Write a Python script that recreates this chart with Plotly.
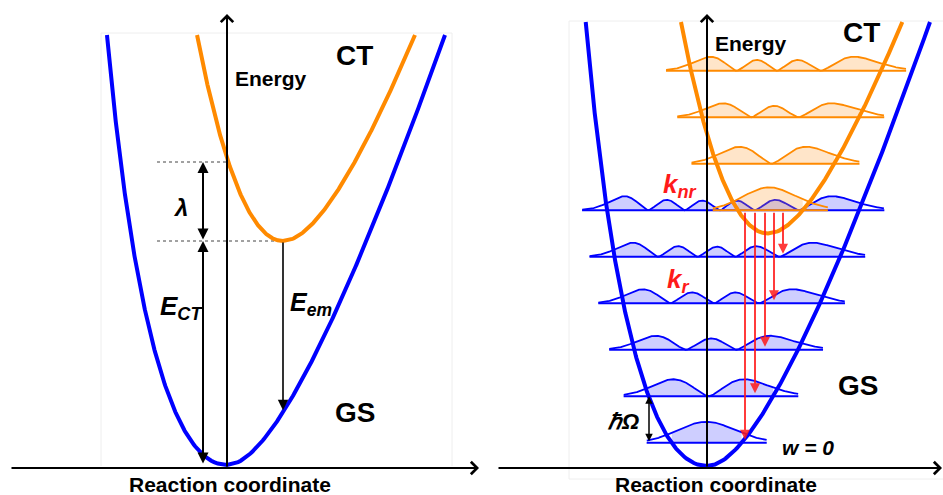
import numpy as np
import plotly.graph_objects as go
from numpy.polynomial.hermite import hermval

# ---------------- data (arbitrary units, reaction coordinate q / energy E) ----------------
# shape of each potential branch: horizontal offset = a*sqrt(h) + b*h at height h above minimum
GS_BRANCH_LEFT = [7.8, -0.097]
GS_BRANCH_RIGHT = [6.2, 0.208]
CT_BRANCH_LEFT = [6.42, -0.03]
CT_BRANCH_RIGHT = [6.24, 0.206]

# left panel: Marcus picture
A_GS_MIN = [0, 0]          # (q, E)
A_CT_MIN = [56, 224]       # (q, E)
A_LAMBDA = 79              # reorganisation energy
A_E_TOP = 430              # top of drawn potentials
A_ARROW_Q = -24            # q of the E_CT / lambda arrows

# right panel: vibronic picture
B_GS_MIN = [0, 0]
B_CT_MIN = [61, 232.5]
B_HW = 46.5                # vibrational quantum (hbar Omega)
B_GS_AMP = [21, 17, 14, 14, 14, 14]   # drawn wavefunction height of GS levels w = 0..5
B_CT_AMP = [23, 17, 14, 14]           # drawn wavefunction height of CT levels 0..3
B_E_TOP = 444
B_KR_Q = [38, 48, 58, 67, 76]         # q of radiative transitions
B_KR_TARGET = [0, 1, 2, 3, 4]         # GS level reached by each transition
B_HW_ARROW_Q = -58

BLUE = "#0000FF"
ORANGE = "#FF8A00"
RED = "rgba(255,25,25,0.85)"
FONT = "Arial, Liberation Sans, sans-serif"
EXT = 25
PSI_POWER = 1.5


def branch(h, p):
    h = np.maximum(h, 0)
    return p[0] * np.sqrt(h) + p[1] * h


def potential(q0, e0, pl, pr, top):
    h = np.linspace(0, top - e0, 300)
    x = np.concatenate([q0 - branch(h[::-1], pl), q0 + branch(h, pr)])
    y = np.concatenate([e0 + h[::-1], e0 + h])
    return x, y


def wave(q0, e0, pl, pr, hw, n, amp):
    hn = (n + 0.5) * hw
    xl = q0 - branch(hn, pl)
    xr = q0 + branch(hn, pr)
    xt = np.sqrt(2 * n + 1)
    xi = np.linspace(-xt - 3, xt + 3, 1500)
    xlin = (xl + xr) / 2 + (xr - xl) / 2 * xi / xt
    hh = xi ** 2 * hw / 2
    xw = q0 + np.where(xi < 0, -branch(hh, pl), branch(hh, pr))
    x = 0.5 * (xlin + xw)
    c = np.zeros(n + 1)
    c[n] = 1
    p = np.abs(hermval(xi, c)) ** PSI_POWER * np.exp(-PSI_POWER * xi ** 2 / 2)
    p = p / p.max() * amp
    en = e0 + hn
    m = (x >= xl - EXT) & (x <= xr + EXT)
    return x[m], en + p[m], xl, xr, en


fig = go.Figure()


def line(x, y, color, width, xa="x", ya="y", dash=None, fill=None, fillcolor=None):
    fig.add_trace(go.Scatter(x=x, y=y, mode="lines", xaxis=xa, yaxis=ya,
                             line=dict(color=color, width=width, dash=dash),
                             fill=fill, fillcolor=fillcolor, hoverinfo="skip",
                             showlegend=False))


def arrow(xa, ya, x0, y0, x1, y1, head=2, size=1.0, width=2, color="black", both=False):
    fig.add_annotation(x=x1, y=y1, ax=x0, ay=y0, xref=xa, yref=ya, axref=xa, ayref=ya,
                       text="", showarrow=True, arrowhead=head, startarrowhead=head,
                       arrowside="end+start" if both else "end", arrowsize=size,
                       startarrowsize=size, arrowwidth=width, arrowcolor=color)


def label(xa, ya, x, y, txt, size, color="black", xanchor="center"):
    fig.add_annotation(x=x, y=y, xref=xa, yref=ya, text=txt, showarrow=False,
                       font=dict(family=FONT, size=size, color=color),
                       xanchor=xanchor, yanchor="middle")


# ---------------- faint frames ----------------
line([-126, -126, 225, 225], [-1, 432, 432, -1], "#eeeeee", 1)
line([236, -138, -138, 236], [445, 445, -13, -13], "#eeeeee", 1, "x2", "y2")

# ---------------- left panel ----------------
gx, gy = potential(A_GS_MIN[0], A_GS_MIN[1], GS_BRANCH_LEFT, GS_BRANCH_RIGHT, A_E_TOP)
cx, cy = potential(A_CT_MIN[0], A_CT_MIN[1], CT_BRANCH_LEFT, CT_BRANCH_RIGHT, A_E_TOP)
e_up = A_CT_MIN[1] + A_LAMBDA
line([-70, 0], [e_up, e_up], "#444444", 1, dash="3px,3px")
line([-70, A_CT_MIN[0]], [A_CT_MIN[1], A_CT_MIN[1]], "#444444", 1, dash="3px,3px")
line(gx, gy, BLUE, 4)
line(cx, cy, ORANGE, 4)

# emission energy: vertical drop from CT minimum onto GS curve
hh = np.linspace(0, 300, 3001)
e_em_end = np.interp(A_CT_MIN[0], branch(hh, GS_BRANCH_RIGHT), hh)

arrow("x", "y", -217, -3, 252, -3, head=4, size=1.2, width=2)
arrow("x", "y", 0, -3, 0, 451, head=4, size=1.2, width=2)
arrow("x", "y", A_ARROW_Q, A_CT_MIN[1], A_ARROW_Q, e_up, head=2, size=1.1, width=2, both=True)
arrow("x", "y", A_ARROW_Q, 0, A_ARROW_Q, A_CT_MIN[1], head=2, size=1.1, width=2, both=True)
arrow("x", "y", A_CT_MIN[0], A_CT_MIN[1], A_CT_MIN[0], e_em_end + 2, head=2, size=1.3, width=1.6)

label("x", "y", 6, 387, "<b>Energy</b>", 21, xanchor="left")
label("x", "y", 127, 410, "<b>CT</b>", 28)
label("x", "y", 128, 53, "<b>GS</b>", 28)
label("x", "y", -47, 258, "<b><i>λ</i></b>", 24)
label("x", "y", -46, 158, "<b><i>E</i></b><sub><b><i>CT</i></b></sub>", 26)
label("x", "y", 84, 161, "<b><i>E</i></b><sub><b><i>em</i></b></sub>", 25)
label("x", "y", 3, -19, "<b>Reaction coordinate</b>", 21)

# ---------------- right panel ----------------
for n, amp in enumerate(B_GS_AMP):
    x, y, xl, xr, en = wave(B_GS_MIN[0], B_GS_MIN[1], GS_BRANCH_LEFT, GS_BRANCH_RIGHT, B_HW, n, amp)
    m = (x >= xl) & (x <= xr)
    line(np.concatenate([x[m], x[m][::-1]]), np.concatenate([y[m], np.full(m.sum(), en)]),
         "rgba(0,0,0,0)", 0, "x2", "y2", fill="toself", fillcolor="rgba(60,60,255,0.25)")
    line([xl - EXT, xr + EXT], [en, en], BLUE, 2, "x2", "y2")
    line(x, y, BLUE, 1.8, "x2", "y2")

for n, amp in enumerate(B_CT_AMP):
    x, y, xl, xr, en = wave(B_CT_MIN[0], B_CT_MIN[1], CT_BRANCH_LEFT, CT_BRANCH_RIGHT, B_HW, n, amp)
    m = (x >= xl) & (x <= xr)
    line(np.concatenate([x[m], x[m][::-1]]), np.concatenate([y[m], np.full(m.sum(), en)]),
         "rgba(0,0,0,0)", 0, "x2", "y2", fill="toself", fillcolor="rgba(255,150,40,0.25)")
    line([xl - EXT, xr + EXT], [en, en], ORANGE, 2, "x2", "y2")
    line(x, y, ORANGE, 1.8, "x2", "y2")

gx, gy = potential(B_GS_MIN[0], B_GS_MIN[1], GS_BRANCH_LEFT, GS_BRANCH_RIGHT, B_E_TOP)
cx, cy = potential(B_CT_MIN[0], B_CT_MIN[1], CT_BRANCH_LEFT, CT_BRANCH_RIGHT, B_E_TOP)
line(gx, gy, BLUE, 4, "x2", "y2")
line(cx, cy, ORANGE, 4, "x2", "y2")

e_ct0 = B_CT_MIN[1] + 0.5 * B_HW
for q, t in zip(B_KR_Q, B_KR_TARGET):
    arrow("x2", "y2", q, e_ct0 - 1, q, (t + 0.5) * B_HW + 3, head=2, size=1.0, width=2, color=RED)

arrow("x2", "y2", -210, -2, 235, -2, head=4, size=1.2, width=2)
arrow("x2", "y2", 0, -2, 0, 452, head=4, size=1.2, width=2)
arrow("x2", "y2", B_HW_ARROW_Q, 0.5 * B_HW, B_HW_ARROW_Q, 1.5 * B_HW, head=2, size=1.0, width=1.5, both=True)

label("x2", "y2", 6, 423, "<b>Energy</b>", 21, xanchor="left")
label("x2", "y2", 154, 434, "<b>CT</b>", 28)
label("x2", "y2", 151, 81, "<b>GS</b>", 28)
label("x2", "y2", 101, 19, "<b><i>w = 0</i></b>", 21)
label("x2", "y2", -84, 45, "<b><i>ℏΩ</i></b>", 22)
label("x2", "y2", -27, 281, "<b><i>k</i></b><sub><b><i>nr</i></b></sub>", 26, color="#FF1A1A")
label("x2", "y2", -29, 186, "<b><i>k</i></b><sub><b><i>r</i></b></sub>", 26, color="#FF1A1A")
label("x2", "y2", 9, -18, "<b>Reaction coordinate</b>", 21)

fig.update_layout(
    width=943, height=495, margin=dict(l=0, r=0, t=0, b=0),
    paper_bgcolor="white", plot_bgcolor="white", showlegend=False,
    xaxis=dict(range=[-227, 716], domain=[0, 1], visible=False),
    yaxis=dict(range=[-30, 465], domain=[0, 1], visible=False),
    xaxis2=dict(range=[-707, 236], overlaying="x", visible=False),
    yaxis2=dict(range=[-29, 466], overlaying="y", visible=False),
)

fig.write_html("out.html", config={"displayModeBar": False},
               post_script="document.body.style.margin='0';")
